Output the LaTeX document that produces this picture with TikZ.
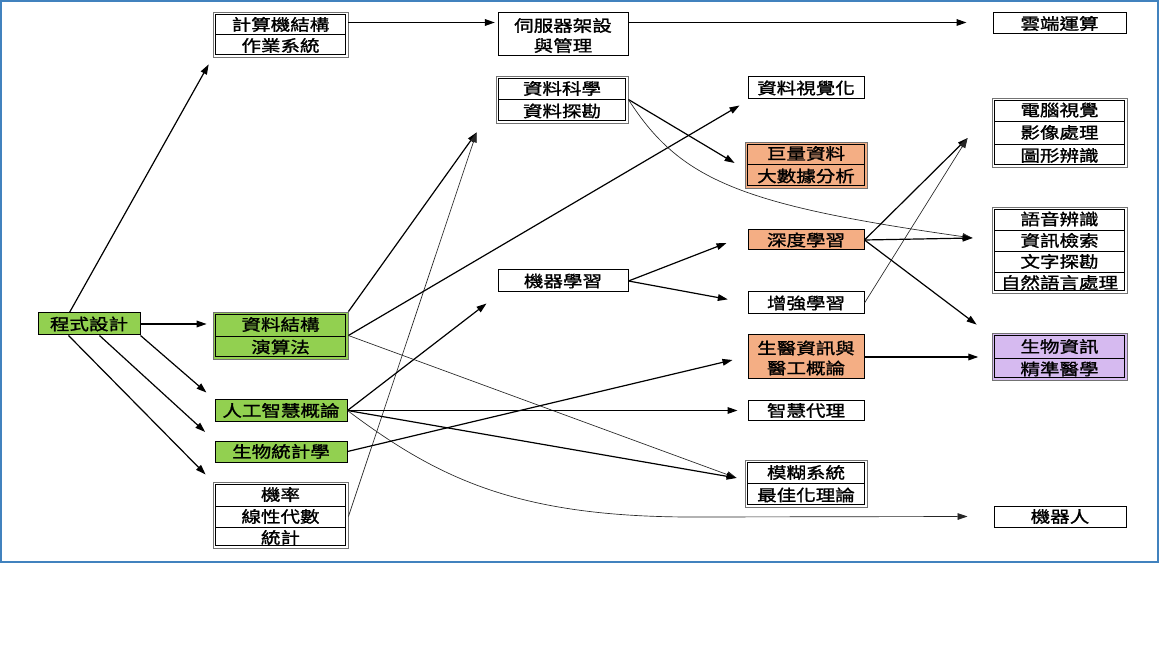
\documentclass[tikz,border=0pt]{standalone}
\usepackage{fontspec}
\newfontfamily\cjk[FakeStretch=1.22,FakeBold=1.3]{Noto Sans CJK TC}
\usetikzlibrary{arrows.meta}
\definecolor{gfill}{RGB}{146,208,80}
\definecolor{ofill}{RGB}{244,174,132}
\definecolor{pfill}{RGB}{214,186,240}
\definecolor{frameblue}{RGB}{65,130,190}
\newcommand\dboxin[1]{\draw[innerline] ([shift={(3,3)}]#1.north west) rectangle ([shift={(-3,-3)}]#1.south east);}
\begin{document}
\begin{tikzpicture}[x=0.75pt,y=-0.75pt,
  font=\cjk\fontsize{12}{14}\selectfont,
  box/.style={draw=black, line width=0.75pt, inner sep=0pt, fill=white},
  dbox/.style={draw=black!55, line width=0.6pt, inner sep=0pt, fill=white},
  sz/.style 2 args={minimum width=#1*0.75pt, minimum height=#2*0.75pt},
  lbl/.style={inner sep=0pt},
  innerline/.style={draw=black, line width=0.8pt},
  divline/.style={draw=black, line width=0.6pt},
  arr/.style={-{Triangle[length=7.5pt,width=5pt]}, line width=0.9pt},
  tarr/.style={-{Triangle[length=7.5pt,width=5pt]}, line width=0.5pt, draw=black!85}]
\useasboundingbox (0,0) rectangle (1167,648);
\fill[white] (0,0) rectangle (1167,648);
\draw[frameblue, line width=1.1pt] (1,1) rectangle (1158,562);

% column 1
\node[box, fill=gfill, sz={102}{22}] (prog) at (89,324) {程式設計};

% column 2
\node[dbox, sz={135}{45}] (coa) at (280.5,34.5) {};
\dboxin{coa}
\draw[divline] (216,34) -- (345,34);
\node[lbl] (coa1) at (280.5,24.5) {計算機結構};
\node[lbl] (coa2) at (280.5,45.5) {作業系統};

\node[dbox, fill=gfill, sz={135}{47}] (dsa) at (280.5,335.5) {};
\dboxin{dsa}
\draw[divline] (216,336) -- (345,336);
\node[lbl] (dsa1) at (280.5,324.5) {資料結構};
\node[lbl] (dsa2) at (280.5,347) {演算法};

\node[box, fill=gfill, sz={132}{21}] (ai) at (281,410.5) {人工智慧概論};
\node[box, fill=gfill, sz={132}{21}] (bio) at (281,451.5) {生物統計學};

\node[dbox, sz={135}{66}] (math) at (280.5,515) {};
\dboxin{math}
\draw[divline] (216,506) -- (345,506);
\draw[divline] (216,527) -- (345,527);
\node[lbl] (math1) at (280.5,494.5) {機率};
\node[lbl] (math2) at (280.5,516.5) {線性代數};
\node[lbl] (math3) at (280.5,537.5) {統計};

% column 3
\node[box, sz={130}{43}] (srv) at (563,34.5) {};
\node[lbl] (srv1) at (563,25.5) {伺服器架設};
\node[lbl] (srv2) at (563,45.5) {與管理};

\node[dbox, sz={132}{47}] (dsc) at (562,99.5) {};
\dboxin{dsc}
\draw[divline] (499,99) -- (625,99);
\node[lbl] (dsc1) at (562,88.5) {資料科學};
\node[lbl] (dsc2) at (562,111) {資料探勘};

\node[box, sz={130}{22}] (ml) at (563,281) {機器學習};

% column 4
\node[box, sz={116}{22}] (viz) at (806,88) {資料視覺化};

\node[dbox, fill=ofill, sz={122}{46}] (big) at (806,165) {};
\dboxin{big}
\draw[divline] (748,164) -- (864,164);
\node[lbl] (big1) at (806,153.5) {巨量資料};
\node[lbl] (big2) at (806,176) {大數據分析};

\node[box, fill=ofill, sz={116}{20}] (dl) at (806,240) {深度學習};
\node[box, sz={116}{22}] (rl) at (806,303) {增強學習};

\node[box, fill=ofill, sz={116}{44}] (bme) at (806,357) {};
\node[lbl] (bme1) at (806,348) {生醫資訊與};
\node[lbl] (bme2) at (806,368) {醫工概論};

\node[box, sz={116}{19}] (agent) at (806,410.5) {智慧代理};

\node[dbox, sz={122}{47}] (fuzzy) at (806,483.5) {};
\dboxin{fuzzy}
\draw[divline] (748,483) -- (864,483);
\node[lbl] (fuzzy1) at (806,472.5) {模糊系統};
\node[lbl] (fuzzy2) at (806,495) {最佳化理論};

% column 5
\node[box, sz={133}{21}] (cloud) at (1059.5,23.5) {雲端運算};

\node[dbox, sz={135}{69}] (cv) at (1059.5,132.5) {};
\dboxin{cv}
\draw[divline] (995,121) -- (1124,121);
\draw[divline] (995,144) -- (1124,144);
\node[lbl] (cv1) at (1059.5,110) {電腦視覺};
\node[lbl] (cv2) at (1059.5,132.5) {影像處理};
\node[lbl] (cv3) at (1059.5,155.5) {圖形辨識};

\node[dbox, sz={135}{86}] (nlp) at (1059.5,250) {};
\dboxin{nlp}
\draw[divline] (995,230) -- (1124,230);
\draw[divline] (995,251) -- (1124,251);
\draw[divline] (995,272) -- (1124,272);
\node[lbl] (nlp1) at (1059.5,219) {語音辨識};
\node[lbl] (nlp2) at (1059.5,240.5) {資訊檢索};
\node[lbl] (nlp3) at (1059.5,261.5) {文字探勘};
\node[lbl] (nlp4) at (1059.5,282.5) {自然語言處理};

\node[dbox, fill=pfill, sz={135}{47}] (bioinf) at (1059.5,356.5) {};
\dboxin{bioinf}
\draw[divline] (995,358) -- (1124,358);
\node[lbl] (bioinf1) at (1059.5,346.5) {生物資訊};
\node[lbl] (bioinf2) at (1059.5,369) {精準醫學};

\node[box, sz={132}{21}] (robot) at (1060,516.5) {機器人};

% arrow target points
\coordinate (c1) at ([shift={(0,-12)}]coa.east);
\coordinate (c2) at ([shift={(0,-12)}]srv.east);
\coordinate (dscin) at ([shift={(-19,9)}]dsc.south west);
\coordinate (vizin) at ([shift={(-8,6)}]viz.south west);
\coordinate (fuzin) at ([shift={(-8,-5.5)}]fuzzy.west);
\coordinate (mlin) at ([shift={(-11,11)}]ml.south west);
\coordinate (bmein) at ([shift={(-15,3)}]bme.west);
\coordinate (dlin) at ([shift={(-21,3)}]dl.west);
\coordinate (bigin) at ([shift={(-10,-2)}]big.west);
\coordinate (nlpin) at ([shift={(-19,-12)}]nlp.west);
\coordinate (cvin) at ([shift={(-24,5.5)}]cv.west);
\coordinate (bioin) at ([shift={(-15,-8)}]bioinf.north west);

% connectors from 程式設計
\draw[arr, shorten >=6pt] ([shift={(32,0)}]prog.north west) -- (coa.south west);
\draw[arr, shorten >=4.5pt] (prog.east) -- (prog.east -| dsa.west);
\draw[arr, shorten >=8pt] (prog.south east) -- (ai.north west);
\draw[arr, shorten >=9.5pt] ([shift={(62,0)}]prog.south west) -- (bio.north west);
\draw[arr, shorten >=7.5pt] ([shift={(31,0)}]prog.south west) -- (math.north west);

% column 2 -> 3
\draw[arr, shorten >=2pt] (c1) -- (c1 -| srv.west);
\draw[arr, shorten >=19.5pt] (c2) -- (c2 -| cloud.west);
\draw[arr] (dsa.north east) -- (dscin);
\draw[tarr] (math2 -| math.east) -- (dscin);
\draw[arr] (dsa.east) -- (vizin);
\draw[tarr] (dsa.east) -- (fuzin);
\draw[arr] (ai.east) -- (mlin);
\draw[arr, shorten >=7.5pt] (ai.east) -- (ai.east -| agent.west);
\draw[arr] (ai.east) -- (fuzin);
\draw[tarr] (ai.east) .. controls (440,480) and (520,518) .. (700,517) -- ([xshift=-19.5pt]robot.west);
\draw[arr] (bio.east) -- (bmein);

% column 3 -> 4/5
\draw[arr] (ml.east) -- (dlin);
\draw[arr, shorten >=15pt] (ml.east) -- ([shift={(0,22)}]ml.east -| rl.west);
\draw[arr] (dsc.east) -- (bigin);
\draw[tarr] (dsc.east) .. controls (680,180) and (740,205) .. (nlpin);

% column 4 -> 5
\draw[arr] (dl.east) -- (nlpin);
\draw[arr] (dl.east) -- (cvin);
\draw[tarr] (rl.east) -- (cvin);
\draw[arr] (dl.east) -- (bioin);
\draw[arr, shorten >=10pt] (bme.east) -- (bme.east -| bioinf.west);
\end{tikzpicture}
\end{document}
